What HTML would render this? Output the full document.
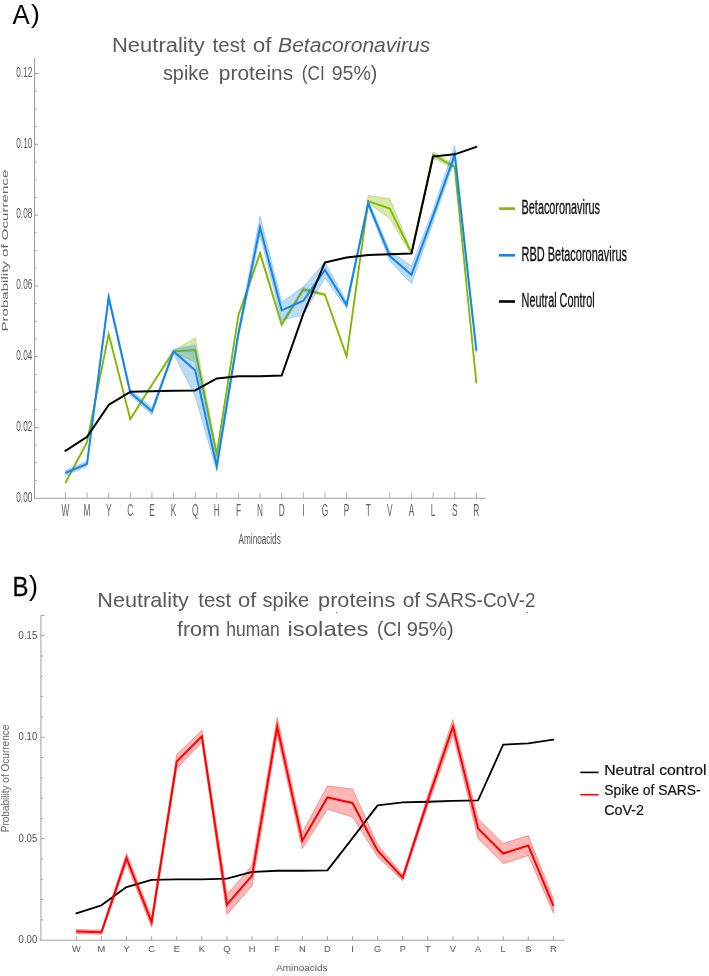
<!DOCTYPE html>
<html><head><meta charset="utf-8"><title>Neutrality test</title>
<style>
html,body{margin:0;padding:0;background:#fff;}
body{width:709px;height:976px;overflow:hidden;}
svg{display:block;will-change:transform;}
text{font-family:"Liberation Sans", sans-serif;}
</style></head><body>
<svg width="709" height="976" viewBox="0 0 709 976">
<rect x="0" y="0" width="709" height="976" fill="#fff"/>

<text x="12.5" y="23.8" font-size="27.6" fill="#000" textLength="17.2" lengthAdjust="spacingAndGlyphs">A</text>
<text x="31.1" y="22.9" font-size="26.6" fill="#000">)</text>
<text x="12.4" y="596" font-size="28" fill="#000" stroke="#000" stroke-width="0.3" textLength="16" lengthAdjust="spacingAndGlyphs">B</text>
<text x="29.1" y="595.1" font-size="27.2" fill="#000">)</text>
<text x="111.95" y="51.9" font-size="19.6" fill="#595959" textLength="92.88" lengthAdjust="spacingAndGlyphs">Neutrality</text>
<text x="212.64" y="51.9" font-size="19.6" fill="#595959" textLength="32.95" lengthAdjust="spacingAndGlyphs">test</text>
<text x="252.79" y="51.9" font-size="19.6" fill="#595959" textLength="18.79" lengthAdjust="spacingAndGlyphs">of</text>
<text x="278.10" y="51.9" font-size="19.6" fill="#595959" font-style="italic" textLength="152.21" lengthAdjust="spacingAndGlyphs">Betacoronavirus</text>
<text x="162.98" y="80.1" font-size="19.6" fill="#595959" textLength="46.23" lengthAdjust="spacingAndGlyphs">spike</text>
<text x="218.85" y="80.1" font-size="19.6" fill="#595959" textLength="74.34" lengthAdjust="spacingAndGlyphs">proteins</text>
<text x="301.76" y="80.1" font-size="19.6" fill="#595959" textLength="22.94" lengthAdjust="spacingAndGlyphs">(CI</text>
<text x="331.71" y="80.1" font-size="19.6" fill="#595959" textLength="45.67" lengthAdjust="spacingAndGlyphs">95%)</text>
<text x="97.36" y="607.1" font-size="21" fill="#595959" textLength="91.45" lengthAdjust="spacingAndGlyphs">Neutrality</text>
<text x="198.35" y="607.1" font-size="21" fill="#595959" textLength="32.83" lengthAdjust="spacingAndGlyphs">test</text>
<text x="238.04" y="607.1" font-size="21" fill="#595959" textLength="18.29" lengthAdjust="spacingAndGlyphs">of</text>
<text x="262.53" y="607.1" font-size="21" fill="#595959" textLength="46.72" lengthAdjust="spacingAndGlyphs">spike</text>
<text x="318.09" y="607.1" font-size="21" fill="#595959" textLength="77.16" lengthAdjust="spacingAndGlyphs">proteins</text>
<text x="402.63" y="607.1" font-size="21" fill="#595959" textLength="17.41" lengthAdjust="spacingAndGlyphs">of</text>
<text x="425.08" y="607.1" font-size="21" fill="#595959" textLength="110.45" lengthAdjust="spacingAndGlyphs">SARS-CoV-2</text>
<text x="176.94" y="635.5" font-size="21" fill="#595959" textLength="43.01" lengthAdjust="spacingAndGlyphs">from</text>
<text x="226.27" y="635.5" font-size="21" fill="#595959" textLength="53.41" lengthAdjust="spacingAndGlyphs">human</text>
<text x="287.55" y="635.5" font-size="21" fill="#595959" textLength="81.01" lengthAdjust="spacingAndGlyphs">isolates</text>
<text x="376.92" y="635.5" font-size="21" fill="#595959" textLength="24.91" lengthAdjust="spacingAndGlyphs">(CI</text>
<text x="406.75" y="635.5" font-size="21" fill="#595959" textLength="46.89" lengthAdjust="spacingAndGlyphs">95%)</text>
<line x1="34.55" y1="57.8" x2="34.55" y2="498.2" stroke="#a0a0a0" stroke-width="1.1"/>
<line x1="34.0" y1="498.2" x2="485.9" y2="498.2" stroke="#a0a0a0" stroke-width="1.1"/>
<line x1="34.55" y1="480.50" x2="36.55" y2="480.50" stroke="#a0a0a0" stroke-width="1"/>
<line x1="34.55" y1="462.81" x2="36.55" y2="462.81" stroke="#a0a0a0" stroke-width="1"/>
<line x1="34.55" y1="445.12" x2="36.55" y2="445.12" stroke="#a0a0a0" stroke-width="1"/>
<line x1="34.55" y1="427.42" x2="38.05" y2="427.42" stroke="#a0a0a0" stroke-width="1"/>
<line x1="34.55" y1="409.72" x2="36.55" y2="409.72" stroke="#a0a0a0" stroke-width="1"/>
<line x1="34.55" y1="392.03" x2="36.55" y2="392.03" stroke="#a0a0a0" stroke-width="1"/>
<line x1="34.55" y1="374.33" x2="36.55" y2="374.33" stroke="#a0a0a0" stroke-width="1"/>
<line x1="34.55" y1="356.64" x2="38.05" y2="356.64" stroke="#a0a0a0" stroke-width="1"/>
<line x1="34.55" y1="338.94" x2="36.55" y2="338.94" stroke="#a0a0a0" stroke-width="1"/>
<line x1="34.55" y1="321.25" x2="36.55" y2="321.25" stroke="#a0a0a0" stroke-width="1"/>
<line x1="34.55" y1="303.55" x2="36.55" y2="303.55" stroke="#a0a0a0" stroke-width="1"/>
<line x1="34.55" y1="285.86" x2="38.05" y2="285.86" stroke="#a0a0a0" stroke-width="1"/>
<line x1="34.55" y1="268.16" x2="36.55" y2="268.16" stroke="#a0a0a0" stroke-width="1"/>
<line x1="34.55" y1="250.47" x2="36.55" y2="250.47" stroke="#a0a0a0" stroke-width="1"/>
<line x1="34.55" y1="232.77" x2="36.55" y2="232.77" stroke="#a0a0a0" stroke-width="1"/>
<line x1="34.55" y1="215.08" x2="38.05" y2="215.08" stroke="#a0a0a0" stroke-width="1"/>
<line x1="34.55" y1="197.38" x2="36.55" y2="197.38" stroke="#a0a0a0" stroke-width="1"/>
<line x1="34.55" y1="179.69" x2="36.55" y2="179.69" stroke="#a0a0a0" stroke-width="1"/>
<line x1="34.55" y1="162.00" x2="36.55" y2="162.00" stroke="#a0a0a0" stroke-width="1"/>
<line x1="34.55" y1="144.30" x2="38.05" y2="144.30" stroke="#a0a0a0" stroke-width="1"/>
<line x1="34.55" y1="126.61" x2="36.55" y2="126.61" stroke="#a0a0a0" stroke-width="1"/>
<line x1="34.55" y1="108.91" x2="36.55" y2="108.91" stroke="#a0a0a0" stroke-width="1"/>
<line x1="34.55" y1="91.21" x2="36.55" y2="91.21" stroke="#a0a0a0" stroke-width="1"/>
<line x1="34.55" y1="73.52" x2="38.05" y2="73.52" stroke="#a0a0a0" stroke-width="1"/>
<line x1="65.40" y1="492.3" x2="65.40" y2="498.2" stroke="#b0b0b0" stroke-width="1"/>
<line x1="87.03" y1="492.3" x2="87.03" y2="498.2" stroke="#b0b0b0" stroke-width="1"/>
<line x1="108.66" y1="492.3" x2="108.66" y2="498.2" stroke="#b0b0b0" stroke-width="1"/>
<line x1="130.29" y1="492.3" x2="130.29" y2="498.2" stroke="#b0b0b0" stroke-width="1"/>
<line x1="151.92" y1="492.3" x2="151.92" y2="498.2" stroke="#b0b0b0" stroke-width="1"/>
<line x1="173.55" y1="492.3" x2="173.55" y2="498.2" stroke="#b0b0b0" stroke-width="1"/>
<line x1="195.18" y1="492.3" x2="195.18" y2="498.2" stroke="#b0b0b0" stroke-width="1"/>
<line x1="216.81" y1="492.3" x2="216.81" y2="498.2" stroke="#b0b0b0" stroke-width="1"/>
<line x1="238.44" y1="492.3" x2="238.44" y2="498.2" stroke="#b0b0b0" stroke-width="1"/>
<line x1="260.07" y1="492.3" x2="260.07" y2="498.2" stroke="#b0b0b0" stroke-width="1"/>
<line x1="281.70" y1="492.3" x2="281.70" y2="498.2" stroke="#b0b0b0" stroke-width="1"/>
<line x1="303.33" y1="492.3" x2="303.33" y2="498.2" stroke="#b0b0b0" stroke-width="1"/>
<line x1="324.96" y1="492.3" x2="324.96" y2="498.2" stroke="#b0b0b0" stroke-width="1"/>
<line x1="346.59" y1="492.3" x2="346.59" y2="498.2" stroke="#b0b0b0" stroke-width="1"/>
<line x1="389.85" y1="492.3" x2="389.85" y2="498.2" stroke="#b0b0b0" stroke-width="1"/>
<line x1="411.48" y1="492.3" x2="411.48" y2="498.2" stroke="#b0b0b0" stroke-width="1"/>
<line x1="433.11" y1="492.3" x2="433.11" y2="498.2" stroke="#b0b0b0" stroke-width="1"/>
<line x1="454.74" y1="492.3" x2="454.74" y2="498.2" stroke="#b0b0b0" stroke-width="1"/>
<line x1="476.37" y1="492.3" x2="476.37" y2="498.2" stroke="#b0b0b0" stroke-width="1"/>
<text transform="translate(32.3 501.50) scale(0.56 1)" font-size="14.7" fill="#5a5a5a" text-anchor="end">0.00</text>
<text transform="translate(32.3 430.72) scale(0.56 1)" font-size="14.7" fill="#5a5a5a" text-anchor="end">0.02</text>
<text transform="translate(32.3 359.94) scale(0.56 1)" font-size="14.7" fill="#5a5a5a" text-anchor="end">0.04</text>
<text transform="translate(32.3 289.16) scale(0.56 1)" font-size="14.7" fill="#5a5a5a" text-anchor="end">0.06</text>
<text transform="translate(32.3 218.38) scale(0.56 1)" font-size="14.7" fill="#5a5a5a" text-anchor="end">0.08</text>
<text transform="translate(32.3 147.60) scale(0.56 1)" font-size="14.7" fill="#5a5a5a" text-anchor="end">0.10</text>
<text transform="translate(32.3 76.82) scale(0.56 1)" font-size="14.7" fill="#5a5a5a" text-anchor="end">0.12</text>
<text transform="translate(65.40 515.8) scale(0.52 1)" font-size="16" fill="#606060" text-anchor="middle">W</text>
<text transform="translate(87.03 515.8) scale(0.52 1)" font-size="16" fill="#606060" text-anchor="middle">M</text>
<text transform="translate(108.66 515.8) scale(0.52 1)" font-size="16" fill="#606060" text-anchor="middle">Y</text>
<text transform="translate(130.29 515.8) scale(0.52 1)" font-size="16" fill="#606060" text-anchor="middle">C</text>
<text transform="translate(151.92 515.8) scale(0.52 1)" font-size="16" fill="#606060" text-anchor="middle">E</text>
<text transform="translate(173.55 515.8) scale(0.52 1)" font-size="16" fill="#606060" text-anchor="middle">K</text>
<text transform="translate(195.18 515.8) scale(0.52 1)" font-size="16" fill="#606060" text-anchor="middle">Q</text>
<text transform="translate(216.81 515.8) scale(0.52 1)" font-size="16" fill="#606060" text-anchor="middle">H</text>
<text transform="translate(238.44 515.8) scale(0.52 1)" font-size="16" fill="#606060" text-anchor="middle">F</text>
<text transform="translate(260.07 515.8) scale(0.52 1)" font-size="16" fill="#606060" text-anchor="middle">N</text>
<text transform="translate(281.70 515.8) scale(0.52 1)" font-size="16" fill="#606060" text-anchor="middle">D</text>
<text transform="translate(303.33 515.8) scale(0.52 1)" font-size="16" fill="#606060" text-anchor="middle">I</text>
<text transform="translate(324.96 515.8) scale(0.52 1)" font-size="16" fill="#606060" text-anchor="middle">G</text>
<text transform="translate(346.59 515.8) scale(0.52 1)" font-size="16" fill="#606060" text-anchor="middle">P</text>
<text transform="translate(368.22 515.8) scale(0.52 1)" font-size="16" fill="#606060" text-anchor="middle">T</text>
<text transform="translate(389.85 515.8) scale(0.52 1)" font-size="16" fill="#606060" text-anchor="middle">V</text>
<text transform="translate(411.48 515.8) scale(0.52 1)" font-size="16" fill="#606060" text-anchor="middle">A</text>
<text transform="translate(433.11 515.8) scale(0.52 1)" font-size="16" fill="#606060" text-anchor="middle">L</text>
<text transform="translate(454.74 515.8) scale(0.52 1)" font-size="16" fill="#606060" text-anchor="middle">S</text>
<text transform="translate(476.37 515.8) scale(0.52 1)" font-size="16" fill="#606060" text-anchor="middle">R</text>
<text transform="translate(238.6 544.3) scale(0.555 1)" font-size="14.7" fill="#555">Aminoacids</text>
<text transform="translate(7.6 331.6) rotate(-90) scale(1 0.59)" font-size="15.09" fill="#666" textLength="161.9" lengthAdjust="spacingAndGlyphs">Probability of Ocurrence</text>
<polygon points="65.40,481.81 87.03,441.19 108.66,333.07 130.29,418.15 151.92,383.76 173.55,350.44 195.18,338.02 216.81,452.39 238.44,314.28 260.07,251.24 281.70,322.50 303.33,287.40 324.96,293.72 346.59,355.40 368.22,195.53 389.85,198.57 411.48,251.39 433.11,151.69 454.74,165.10 476.37,381.99 476.37,383.99 454.74,169.10 433.11,157.69 411.48,254.39 389.85,218.57 368.22,203.13 346.59,357.40 324.96,295.72 303.33,291.40 281.70,326.50 260.07,255.24 238.44,316.28 216.81,455.39 195.18,362.02 173.55,352.44 151.92,385.76 130.29,420.15 108.66,335.07 87.03,443.19 65.40,483.81" fill="#82b900" fill-opacity="0.33" stroke="#82b900" stroke-opacity="0.35" stroke-width="1"/>
<polyline points="65.40,482.81 87.03,442.19 108.66,334.07 130.29,419.15 151.92,384.76 173.55,351.44 195.18,350.02 216.81,453.89 238.44,315.28 260.07,253.24 281.70,324.50 303.33,289.40 324.96,294.72 346.59,356.40 368.22,201.13 389.85,208.57 411.48,252.89 433.11,154.69 454.74,167.10 476.37,382.99" fill="none" stroke="#82b900" stroke-width="1.8" stroke-linejoin="miter" stroke-miterlimit="12"/>
<polygon points="65.40,470.53 87.03,461.31 108.66,294.20 130.29,389.56 151.92,407.85 173.55,349.44 195.18,345.23 216.81,461.30 238.44,329.36 260.07,216.36 281.70,302.31 303.33,286.74 324.96,261.90 346.59,302.00 368.22,200.26 389.85,251.08 411.48,265.87 433.11,209.66 454.74,145.69 476.37,348.73 476.37,352.73 454.74,159.69 433.11,221.66 411.48,283.87 389.85,261.08 368.22,206.26 346.59,308.00 324.96,277.90 303.33,314.74 281.70,320.31 260.07,235.36 238.44,337.36 216.81,471.30 195.18,396.23 173.55,353.44 151.92,414.85 130.29,395.56 108.66,300.20 87.03,466.31 65.40,475.53" fill="#1e88e5" fill-opacity="0.30" stroke="#1e88e5" stroke-opacity="0.30" stroke-width="1"/>
<polyline points="65.40,473.03 87.03,463.81 108.66,297.20 130.29,392.56 151.92,411.35 173.55,351.44 195.18,370.23 216.81,466.30 238.44,333.36 260.07,227.36 281.70,310.31 303.33,300.74 324.96,269.90 346.59,305.00 368.22,203.26 389.85,256.08 411.48,274.87 433.11,215.66 454.74,154.69 476.37,350.73" fill="none" stroke="#1486e8" stroke-width="2.0" stroke-linejoin="miter" stroke-miterlimit="12"/>
<polyline points="65.40,450.80 87.03,436.87 108.66,404.97 130.29,391.85 151.92,391.14 173.55,390.79 195.18,390.43 216.81,378.38 238.44,376.25 260.07,376.25 281.70,375.54 303.33,313.86 324.96,262.46 346.59,257.49 368.22,255.01 389.85,254.30 411.48,253.59 433.11,156.46 454.74,154.33 476.37,146.89" fill="none" stroke="#000" stroke-width="2.0" stroke-linejoin="round" stroke-linecap="round"/>
<line x1="498.9" y1="208.6" x2="515" y2="208.6" stroke="#82b900" stroke-width="2.6"/>
<line x1="498.9" y1="255.3" x2="515" y2="255.3" stroke="#1486e8" stroke-width="2.6"/>
<line x1="498.9" y1="301.5" x2="515" y2="301.5" stroke="#000" stroke-width="2.6"/>
<text x="521.6" y="213.5" font-size="19.3" fill="#111" stroke="#111" stroke-width="0.35" textLength="78.4" lengthAdjust="spacingAndGlyphs">Betacoronavirus</text>
<text x="521.6" y="260.5" font-size="19.8" fill="#111" stroke="#111" stroke-width="0.35" textLength="105.4" lengthAdjust="spacingAndGlyphs">RBD Betacoronavirus</text>
<text x="521.6" y="306.9" font-size="20.2" fill="#111" stroke="#111" stroke-width="0.35" textLength="73" lengthAdjust="spacingAndGlyphs">Neutral Control</text>
<line x1="40.9" y1="615.4" x2="40.9" y2="940.2" stroke="#a0a0a0" stroke-width="1"/>
<line x1="40.9" y1="615.4" x2="44.2" y2="615.4" stroke="#a0a0a0" stroke-width="1"/>
<line x1="40.4" y1="940.2" x2="564.6" y2="940.2" stroke="#a0a0a0" stroke-width="1"/>
<line x1="40.9" y1="919.90" x2="42.90" y2="919.90" stroke="#a0a0a0" stroke-width="1"/>
<line x1="40.9" y1="899.60" x2="42.90" y2="899.60" stroke="#a0a0a0" stroke-width="1"/>
<line x1="40.9" y1="879.30" x2="42.90" y2="879.30" stroke="#a0a0a0" stroke-width="1"/>
<line x1="40.9" y1="859.00" x2="42.90" y2="859.00" stroke="#a0a0a0" stroke-width="1"/>
<line x1="40.9" y1="838.70" x2="44.40" y2="838.70" stroke="#a0a0a0" stroke-width="1"/>
<line x1="40.9" y1="818.40" x2="42.90" y2="818.40" stroke="#a0a0a0" stroke-width="1"/>
<line x1="40.9" y1="798.10" x2="42.90" y2="798.10" stroke="#a0a0a0" stroke-width="1"/>
<line x1="40.9" y1="777.80" x2="42.90" y2="777.80" stroke="#a0a0a0" stroke-width="1"/>
<line x1="40.9" y1="757.50" x2="42.90" y2="757.50" stroke="#a0a0a0" stroke-width="1"/>
<line x1="40.9" y1="737.20" x2="44.40" y2="737.20" stroke="#a0a0a0" stroke-width="1"/>
<line x1="40.9" y1="716.90" x2="42.90" y2="716.90" stroke="#a0a0a0" stroke-width="1"/>
<line x1="40.9" y1="696.60" x2="42.90" y2="696.60" stroke="#a0a0a0" stroke-width="1"/>
<line x1="40.9" y1="676.30" x2="42.90" y2="676.30" stroke="#a0a0a0" stroke-width="1"/>
<line x1="40.9" y1="656.00" x2="42.90" y2="656.00" stroke="#a0a0a0" stroke-width="1"/>
<line x1="40.9" y1="635.70" x2="44.40" y2="635.70" stroke="#a0a0a0" stroke-width="1"/>
<line x1="76.30" y1="936.3" x2="76.30" y2="940.2" stroke="#a0a0a0" stroke-width="1"/>
<line x1="101.41" y1="936.3" x2="101.41" y2="940.2" stroke="#a0a0a0" stroke-width="1"/>
<line x1="126.52" y1="936.3" x2="126.52" y2="940.2" stroke="#a0a0a0" stroke-width="1"/>
<line x1="151.63" y1="936.3" x2="151.63" y2="940.2" stroke="#a0a0a0" stroke-width="1"/>
<line x1="176.74" y1="936.3" x2="176.74" y2="940.2" stroke="#a0a0a0" stroke-width="1"/>
<line x1="201.85" y1="936.3" x2="201.85" y2="940.2" stroke="#a0a0a0" stroke-width="1"/>
<line x1="226.96" y1="936.3" x2="226.96" y2="940.2" stroke="#a0a0a0" stroke-width="1"/>
<line x1="252.07" y1="936.3" x2="252.07" y2="940.2" stroke="#a0a0a0" stroke-width="1"/>
<line x1="277.18" y1="936.3" x2="277.18" y2="940.2" stroke="#a0a0a0" stroke-width="1"/>
<line x1="302.29" y1="936.3" x2="302.29" y2="940.2" stroke="#a0a0a0" stroke-width="1"/>
<line x1="327.40" y1="936.3" x2="327.40" y2="940.2" stroke="#a0a0a0" stroke-width="1"/>
<line x1="352.51" y1="936.3" x2="352.51" y2="940.2" stroke="#a0a0a0" stroke-width="1"/>
<line x1="377.62" y1="936.3" x2="377.62" y2="940.2" stroke="#a0a0a0" stroke-width="1"/>
<line x1="402.73" y1="936.3" x2="402.73" y2="940.2" stroke="#a0a0a0" stroke-width="1"/>
<line x1="427.84" y1="936.3" x2="427.84" y2="940.2" stroke="#a0a0a0" stroke-width="1"/>
<line x1="452.95" y1="936.3" x2="452.95" y2="940.2" stroke="#a0a0a0" stroke-width="1"/>
<line x1="478.06" y1="936.3" x2="478.06" y2="940.2" stroke="#a0a0a0" stroke-width="1"/>
<line x1="503.17" y1="936.3" x2="503.17" y2="940.2" stroke="#a0a0a0" stroke-width="1"/>
<line x1="528.28" y1="936.3" x2="528.28" y2="940.2" stroke="#a0a0a0" stroke-width="1"/>
<line x1="553.39" y1="936.3" x2="553.39" y2="940.2" stroke="#a0a0a0" stroke-width="1"/>
<text x="18.6" y="943.00" font-size="10.2" fill="#4d4d4d" textLength="18.6" lengthAdjust="spacingAndGlyphs">0.00</text>
<text x="18.6" y="841.50" font-size="10.2" fill="#4d4d4d" textLength="18.6" lengthAdjust="spacingAndGlyphs">0.05</text>
<text x="18.6" y="740.00" font-size="10.2" fill="#4d4d4d" textLength="18.6" lengthAdjust="spacingAndGlyphs">0.10</text>
<text x="18.6" y="638.50" font-size="10.2" fill="#4d4d4d" textLength="18.6" lengthAdjust="spacingAndGlyphs">0.15</text>
<text x="76.30" y="951.9" font-size="9.3" fill="#555" text-anchor="middle">W</text>
<text x="101.41" y="951.9" font-size="9.3" fill="#555" text-anchor="middle">M</text>
<text x="126.52" y="951.9" font-size="9.3" fill="#555" text-anchor="middle">Y</text>
<text x="151.63" y="951.9" font-size="9.3" fill="#555" text-anchor="middle">C</text>
<text x="176.74" y="951.9" font-size="9.3" fill="#555" text-anchor="middle">E</text>
<text x="201.85" y="951.9" font-size="9.3" fill="#555" text-anchor="middle">K</text>
<text x="226.96" y="951.9" font-size="9.3" fill="#555" text-anchor="middle">Q</text>
<text x="252.07" y="951.9" font-size="9.3" fill="#555" text-anchor="middle">H</text>
<text x="277.18" y="951.9" font-size="9.3" fill="#555" text-anchor="middle">F</text>
<text x="302.29" y="951.9" font-size="9.3" fill="#555" text-anchor="middle">N</text>
<text x="327.40" y="951.9" font-size="9.3" fill="#555" text-anchor="middle">D</text>
<text x="352.51" y="951.9" font-size="9.3" fill="#555" text-anchor="middle">I</text>
<text x="377.62" y="951.9" font-size="9.3" fill="#555" text-anchor="middle">G</text>
<text x="402.73" y="951.9" font-size="9.3" fill="#555" text-anchor="middle">P</text>
<text x="427.84" y="951.9" font-size="9.3" fill="#555" text-anchor="middle">T</text>
<text x="452.95" y="951.9" font-size="9.3" fill="#555" text-anchor="middle">V</text>
<text x="478.06" y="951.9" font-size="9.3" fill="#555" text-anchor="middle">A</text>
<text x="503.17" y="951.9" font-size="9.3" fill="#555" text-anchor="middle">L</text>
<text x="528.28" y="951.9" font-size="9.3" fill="#555" text-anchor="middle">S</text>
<text x="553.39" y="951.9" font-size="9.3" fill="#555" text-anchor="middle">R</text>
<text x="276.2" y="971.3" font-size="9.9" fill="#555" textLength="51.3" lengthAdjust="spacingAndGlyphs">Aminoacids</text>
<text transform="translate(9.2 832.3) rotate(-90)" font-size="10" fill="#666" textLength="107.7" lengthAdjust="spacingAndGlyphs">Probability of Ocurrence</text>
<polygon points="76.30,929.47 101.41,930.28 126.52,853.19 151.63,917.13 176.74,754.56 201.85,730.39 226.96,894.68 252.07,865.65 277.18,717.44 302.29,832.73 327.40,785.99 352.51,788.97 377.62,844.68 402.73,874.68 427.84,795.33 452.95,719.44 478.06,818.55 503.17,843.52 528.28,835.60 553.39,898.89 553.39,912.89 528.28,855.60 503.17,863.52 478.06,838.55 452.95,734.44 427.84,805.33 402.73,880.68 377.62,856.68 352.51,816.97 327.40,808.99 302.29,848.73 277.18,734.44 252.07,885.65 226.96,914.68 201.85,742.39 176.74,768.56 151.63,927.13 126.52,863.19 101.41,934.28 76.30,933.47" fill="#ff0000" fill-opacity="0.28" stroke="#ff3030" stroke-opacity="0.45" stroke-width="1"/>
<polyline points="76.30,913.40 101.41,905.28 126.52,887.01 151.63,879.91 176.74,879.30 201.85,879.30 226.96,878.69 252.07,871.99 277.18,870.77 302.29,870.77 327.40,870.37 352.51,838.09 377.62,805.41 402.73,802.36 427.84,801.75 452.95,800.94 478.06,800.33 503.17,744.71 528.28,743.29 553.39,739.64" fill="none" stroke="#000" stroke-width="1.8" stroke-linejoin="round" stroke-linecap="round"/>
<polyline points="76.30,931.47 101.41,932.28 126.52,858.19 151.63,922.13 176.74,761.56 201.85,736.39 226.96,904.68 252.07,875.65 277.18,726.44 302.29,840.73 327.40,797.49 352.51,802.97 377.62,850.68 402.73,877.68 427.84,800.33 452.95,726.44 478.06,828.55 503.17,853.52 528.28,845.60 553.39,905.89" fill="none" stroke="#ff0000" stroke-width="2.0" stroke-linejoin="miter" stroke-miterlimit="12"/>
<circle cx="336.8" cy="612.5" r="0.6" fill="#555"/>
<circle cx="527.4" cy="612.5" r="0.6" fill="#555"/>
<line x1="580.3" y1="772.4" x2="598.6" y2="772.4" stroke="#000" stroke-width="1.6"/>
<line x1="580.3" y1="794.7" x2="598.6" y2="794.7" stroke="#ff0000" stroke-width="1.6"/>
<text x="604.2" y="774.8" font-size="14.2" fill="#111" stroke="#111" stroke-width="0.2" textLength="102.2" lengthAdjust="spacingAndGlyphs">Neutral control</text>
<text x="604.2" y="795.1" font-size="14.2" fill="#111" stroke="#111" stroke-width="0.2" textLength="96.4" lengthAdjust="spacingAndGlyphs">Spike of SARS-</text>
<text x="604.2" y="815.1" font-size="14.2" fill="#111" stroke="#111" stroke-width="0.2" textLength="39.9" lengthAdjust="spacingAndGlyphs">CoV-2</text>
</svg>
</body></html>
